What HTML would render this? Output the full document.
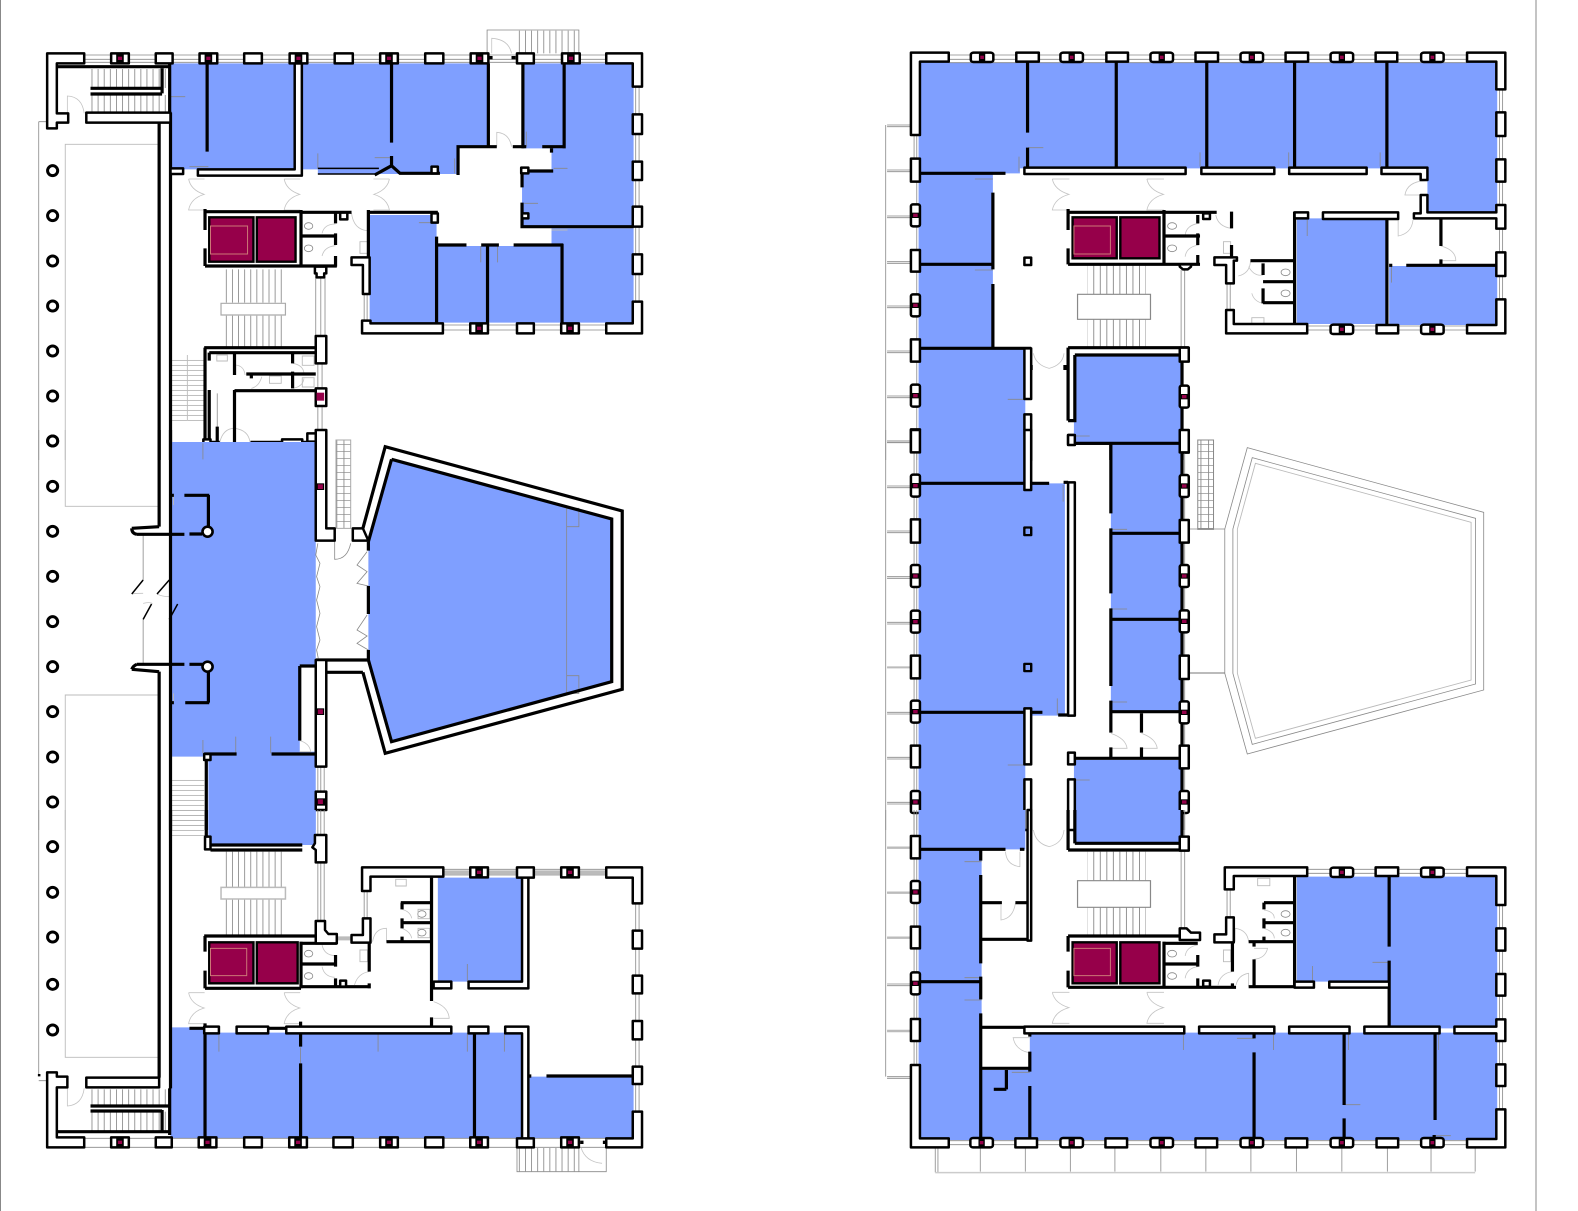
<!DOCTYPE html>
<html><head><meta charset="utf-8"><style>
html,body{margin:0;padding:0;background:#fff}
svg{display:block}
svg *{vector-effect:non-scaling-stroke}
.b{fill:#7f9fff;stroke:none}
.w{fill:none;stroke:#000;stroke-width:3.2;stroke-linecap:butt}
.t{fill:none;stroke:#000;stroke-width:1.5}
.p{fill:#fff;stroke:#000;stroke-width:2.5;stroke-linejoin:round}
.g{fill:none;stroke:#888;stroke-width:.8}
.l{fill:none;stroke:#bbb;stroke-width:.9}
.d{fill:none;stroke:#c4c4c4;stroke-width:.8}
.c{fill:#96004a;stroke:#000;stroke-width:2.4}
.m{fill:#96004a;stroke:none}
.k{fill:#000;stroke:none}
</style></head><body>
<svg xmlns="http://www.w3.org/2000/svg" width="1578" height="1211" viewBox="0 0 1578 1211">
<defs>
<pattern id="sv" patternUnits="userSpaceOnUse" width="14.5" height="40"><rect width="2" height="40" fill="#888"/></pattern>
<pattern id="sh" patternUnits="userSpaceOnUse" width="40" height="15"><rect width="40" height="2" fill="#a0a0a0"/></pattern>
<pattern id="sg" patternUnits="userSpaceOnUse" width="17" height="21"><rect width="2" height="21" fill="#888"/><rect width="17" height="2" fill="#888"/></pattern>
<path id="dd" class="d" d="M0,0H38M0,0Q5,33 37,46Q5,58 0,93H38"/>
<g id="c"><rect x="-21" y="-15" width="42" height="30" class="p"/><rect x="-9" y="-15" width="18" height="30" class="k"/><rect x="-5" y="-5" width="10" height="10" class="m"/></g>
<g id="r"><rect x="-25" y="-14" width="50" height="28" rx="6" class="p"/><rect x="-7" y="-14" width="14" height="28" class="k"/><rect x="-4" y="-5" width="8" height="10" class="m"/></g>
<g id="v"><rect x="-10" y="-33" width="20" height="66" rx="5" class="p"/><rect x="-10" y="-8" width="20" height="16" class="k"/><rect x="-5" y="-5" width="10" height="10" class="m"/></g>
</defs>
<rect width="1578" height="1211" fill="#fff"/>
<path d="M.5,0V1211" class="g" style="stroke-width:1"/>
<path d="M1536,0V1211" class="g" style="stroke-width:1"/>

<!-- LEFT A -->
<g transform="scale(.421,.33333)">
<path class="b" d="M403,190H1160V440H1088V522H755V508H403ZM1240,190H1505V680H1240V520L1310,510V445H1240ZM1040,738H1310V685H1505V968H1040ZM878,645H1037V968H878Z"/>
<path class="g" d="M92,365H112M92,365V1380M200,165H1440M200,178H1440M200,187H1440M1052,975H1440M1052,990H1440M1510,260V905M1518,260V905M750,832V1008M762,832V1008M772,832V1008M865,882V962M872,882V962M755,1090V1165M765,1090V1165M755,1218V1298M765,1218V1298M1157,160V90H1375V160M405,290H440M450,500H495M755,460V505M890,473H930M1080,475V520M1250,395V440M1315,505H1348M1245,610H1278M995,668H1038M1142,738V787M1182,738V787M516,1180V1320"/>
<path class="l" d="M155,1380V433H375M1310,690H1348"/>
<rect x="215" y="207" width="185" height="57" fill="url(#sv)"/><rect x="215" y="285" width="185" height="50" fill="url(#sv)"/>
<rect x="1228" y="92" width="147" height="68" fill="url(#sv)"/>
<rect x="525" y="808" width="153" height="100" fill="url(#sv)"/><rect x="525" y="947" width="153" height="93" fill="url(#sv)"/>
<rect x="525" y="910" width="153" height="35" fill="none" stroke="#aaa" stroke-width="1.2"/>
<rect x="405" y="1068" width="80" height="195" fill="url(#sh)"/><path class="l" d="M445,1065V1262"/>
<path class="d" d="M160,340V288Q195,290 200,340M1168,160V115Q1208,118 1215,160M1180,440V397Q1210,400 1215,440M765,700Q770,672 797,672M765,768Q770,740 797,737M835,640Q840,688 872,692M560,1125V1095Q580,1098 582,1125M597,1165Q615,1160 622,1130M695,1090Q720,1095 722,1120M695,1165Q720,1160 722,1135M522,1327Q530,1285 557,1285Q590,1290 594,1327"/>
<use href="#dd" x="448" y="537"/><use href="#dd" x="675" y="537"/><use href="#dd" transform="translate(925,537) scale(-1,1)"/>
<ellipse cx="733" cy="678" rx="10" ry="10" class="g"/><ellipse cx="733" cy="745" rx="10" ry="10" class="g"/>
<rect x="855" y="725" width="18" height="35" class="l"/><rect x="515" y="1065" width="25" height="18" class="l"/><rect x="640" y="1128" width="28" height="22" class="l"/><rect x="718" y="1068" width="28" height="28" class="l"/><rect x="718" y="1133" width="28" height="28" class="l"/>
<rect x="497" y="652" width="105" height="133" class="c"/><rect x="610" y="652" width="92" height="133" class="c"/>
<rect x="500" y="678" width="88" height="84" fill="none" stroke="#c77" stroke-width="1"/>
<path class="w" d="M378,368V1380M405,338V1380M135,200H405M385,205V280M403,190V340M215,265H385M215,282H385M492,190V455M930,190V428M930,468V495M890,525L930,497L950,520H1045M1088,525V440H1180M1218,440H1250M1288,440H1340M1160,190V440M1242,190V445M1340,190V445M1310,445V458M1250,513H1314M1240,520V562M1240,608V680H1505M1037,710V968M1158,735V970M1335,732V970M1040,735H1108M1143,735H1185M1220,735H1338M872,637H1040M875,630V770M485,635H715M487,627V690M487,745V798M487,798H800M715,630V798M715,637H835M797,640V670M718,708H800M797,700V735M797,768V800M485,1043H750M497,1058H750M487,1043V1330M497,1058V1082M497,1170V1330M557,1060V1125M585,1122H750M695,1060V1090M695,1115V1165M597,1122V1135M557,1170V1330M557,1172H750M595,1327H670M718,1327H750M500,1327H522M516,1280V1327"/>
<path class="t" d="M755,505H900M755,522H890"/>
<path class="p" d="M112,160H200V190H135V340H162V368H135V385H112ZM205,338H405V368H205ZM370,160H410V190H370ZM580,160H622V190H580ZM795,160H838V190H795ZM1010,160H1053V190H1010ZM1228,160H1268V190H1228ZM1440,160H1525V260H1503V190H1440ZM1503,343H1525V402H1503ZM1503,485H1525V540H1503ZM1503,620H1525V680H1503ZM1503,763H1525V822H1503ZM1503,905H1525V1000H1440V970H1503ZM860,962H880V970H1052V1000H860ZM1228,970H1268V1000H1228ZM700,190H717V527H470V508H700ZM405,505H435V522H405ZM835,772H878V882H862V795H835ZM748,800H775V820H770V832H752V820H748ZM750,1008H775V1090H750ZM750,1165H775V1218H750ZM730,1300H750V1295H775V1380H750V1325H730ZM670,1318H718V1335H670ZM483,1318H500V1333H483ZM808,638H825V658H808ZM1025,500H1040V520H1025ZM1238,503H1255V520H1238ZM1240,640H1255V655H1240ZM1025,640H1040V668H1025Z"/>
<use href="#c" x="285" y="175"/><use href="#c" x="495" y="175"/><use href="#c" x="709" y="175"/><use href="#c" x="924" y="175"/><use href="#c" x="1139" y="175"/><use href="#c" x="1356" y="175"/><use href="#c" x="1138" y="985"/><use href="#c" x="1354" y="985"/>
<rect x="752" y="1178" width="18" height="24" class="m"/>
<path class="k" d="M1160,168h10v10h-10zM1215,168h10v10h-10z"/>
<g fill="#fff" stroke="#000" stroke-width="3">
<ellipse cx="125" cy="512" rx="12" ry="15"/><ellipse cx="125" cy="647" rx="12" ry="15"/><ellipse cx="125" cy="783" rx="12" ry="15"/><ellipse cx="125" cy="918" rx="12" ry="15"/><ellipse cx="125" cy="1053" rx="12" ry="15"/><ellipse cx="125" cy="1188" rx="12" ry="15"/><ellipse cx="125" cy="1323" rx="12" ry="15"/>
</g>
</g>

<!-- LEFT B -->
<g transform="translate(0,430) scale(.421,.33333)">
<path class="b" d="M403,36H750V708H712V965H750V1200H495V980H403ZM930,88L1453,267V755L930,935L875,690V335Z"/>
<path class="g" d="M92,0V1200M340,313V450M340,568V700M403,36V700M482,40V88M482,930V970M560,920V970M643,920V970M1346,233V790M1346,235H1375V290H1346M1346,737H1375V790H1346M755,1010V1085M762,1010V1085M770,1010V1085M795,335V388Q825,388 833,340M755,340L750,375L760,400L752,440L760,470L752,510L760,550L752,590L760,630L752,660L756,685M872,365L848,405L872,425L848,460L875,468M872,555L848,600L872,618L848,640L875,660"/>
<path class="l" d="M155,0V229H375M375,795H155V1200M412,225V195M412,790V815"/>
<rect x="798" y="30" width="35" height="265" fill="url(#sg)" stroke="#aaa"/>
<rect x="405" y="1048" width="80" height="152" fill="url(#sh)"/>
<path class="d" d="M340,490Q320,490 313,492M402,500Q385,500 373,492M340,520Q360,515 362,522M712,932Q735,940 738,965H712"/>
<path class="w" d="M378,0V290M313,295L378,290M325,313H438M450,312H480M495,195V290M438,196H497M405,196H413M378,725V1200M313,718L378,725M325,703H438M450,703H482M495,725V818M440,818H497M405,818H413M313,295Q313,310 325,313M313,718Q316,708 325,703M405,0V1200M490,975V1200M485,972H562M645,972H750M712,708H750M712,708V932M750,690H875M775,727H862M875,335V362M875,468V552M875,660V690"/>
<path class="t" d="M340,450L313,492M402,450L373,492M360,522L340,568M422,522L402,568"/>
<path class="w" d="M930,88L1453,267V755L930,935L875,690M875,335L930,88M862,295L915,50L1478,243V778L915,970L862,727"/>
<path class="p" d="M750,0H775V295H795V332H750ZM838,295H862L875,332H838ZM750,690H775V1010H750ZM750,1085H775V1140H750ZM485,972H500V990H485Z"/>
<rect x="752" y="160" width="18" height="20" class="k"/><rect x="755" y="163" width="12" height="14" class="m"/>
<rect x="752" y="835" width="18" height="20" class="k"/><rect x="755" y="838" width="12" height="14" class="m"/>
<rect x="750" y="1105" width="25" height="22" class="k"/><rect x="755" y="1108" width="12" height="14" class="m"/>
<ellipse cx="493" cy="305" rx="12" ry="15" fill="#fff" stroke="#000" stroke-width="2.6"/><ellipse cx="493" cy="710" rx="12" ry="15" fill="#fff" stroke="#000" stroke-width="2.6"/>
<g fill="#fff" stroke="#000" stroke-width="3">
<ellipse cx="125" cy="33" rx="12" ry="15"/><ellipse cx="125" cy="169" rx="12" ry="15"/><ellipse cx="125" cy="304" rx="12" ry="15"/><ellipse cx="125" cy="439" rx="12" ry="15"/><ellipse cx="125" cy="575" rx="12" ry="15"/><ellipse cx="125" cy="710" rx="12" ry="15"/><ellipse cx="125" cy="845" rx="12" ry="15"/><ellipse cx="125" cy="981" rx="12" ry="15"/><ellipse cx="125" cy="1116" rx="12" ry="15"/>
</g>
</g>

<!-- LEFT C -->
<g transform="translate(0,810) scale(.421,.33333)">
<path class="b" d="M495,0H750V105H495ZM405,652H487V668H1240V985H405ZM1258,800H1505V985H1258ZM1040,203H1240V515H1040Z"/>
<path class="g" d="M92,0V797M92,812H112M520,675V725M898,670V725M1110,670V725M1198,670V725M1110,462V515M714,712V760M755,0V75M762,0V75M770,0V75M755,157V333M762,157V333M770,157V333M865,243V325M872,243V325M200,985H1440M200,1012H1440M1053,178H1440M1053,195H1440M1510,280V905M1518,280V905"/>
<path class="l" d="M155,0V742H375" />
<path d="M1053,187H1118M1160,187H1228M1268,187H1335M1377,187H1440M800,385H835" stroke="#bbb" stroke-width="4" fill="none"/>
<rect x="405" y="0" width="80" height="85" fill="url(#sh)"/>
<rect x="525" y="125" width="153" height="107" fill="url(#sv)"/><rect x="525" y="268" width="153" height="107" fill="url(#sv)"/>
<rect x="525" y="232" width="153" height="35" fill="#fff" stroke="#bbb" stroke-width="1.5"/>
<rect x="215" y="838" width="185" height="48" fill="url(#sv)"/><rect x="215" y="905" width="185" height="58" fill="url(#sv)"/>
<rect x="1228" y="1014" width="147" height="70" fill="url(#sv)"/>
<path class="g" d="M1228,1012V1085H1440V1012M1375,1012V1085"/>
<path class="d" d="M1380,1012Q1390,1055 1430,1060M160,835V888Q195,885 200,835M885,395Q890,355 918,355V395M765,405Q770,435 795,437M765,470Q770,500 795,502M842,525Q850,490 877,485M1030,575Q1065,590 1067,625H1030M955,298Q975,305 978,325M955,355Q975,365 978,385"/>
<use href="#dd" x="448" y="548"/><use href="#dd" x="675" y="548"/>
<ellipse cx="733" cy="431" rx="10" ry="10" class="g"/><ellipse cx="733" cy="498" rx="10" ry="10" class="g"/><ellipse cx="1002" cy="312" rx="10" ry="10" class="g"/><ellipse cx="1002" cy="368" rx="10" ry="10" class="g"/>
<rect x="855" y="420" width="18" height="35" class="l"/><rect x="940" y="208" width="25" height="20" class="l"/><rect x="993" y="298" width="28" height="28" class="l"/><rect x="993" y="355" width="28" height="28" class="l"/>
<rect x="497" y="397" width="105" height="123" class="c"/><rect x="610" y="397" width="97" height="123" class="c"/>
<rect x="500" y="415" width="86" height="82" fill="none" stroke="#c77" stroke-width="1"/>
<path class="w" d="M378,0V803M405,0V835M490,0V100M490,100V120M500,105H718M500,120H718M485,378H800M487,378V425M487,482V535M487,535H715M715,395V535M715,400H800M797,435V470M718,462H800M797,505V530M715,530H880M877,395V485M877,520V535M1025,203V573M1025,622V650M952,278H1025M955,278V298M952,338H1025M955,325V355M955,380V395M918,395H1025M450,655H485M637,655H680M487,640V980M714,635V710M714,760V980M1127,670V980M1298,798H1500M1252,798H1262M135,965H405M215,888H405M215,903H385M385,900V965M403,835V975"/>
<path class="p" d="M748,75H775V157H750V120L742,112L748,100ZM750,333H772V360L780,372H800V400H750V378ZM835,375H862V325H880V398H835ZM860,172H1053V200H880V243H860ZM1440,172H1525V280H1503V203H1440ZM1228,172H1268V203H1228ZM1240,203H1255V535H1113V515H1240ZM1040,515H1072V535H1030V515ZM485,650H520V670H485ZM562,650H637V670H562ZM680,650H1072V670H680ZM1113,650H1160V670H1113ZM1200,650H1255V985H1240V670H1200ZM1503,362H1525V416H1503ZM1503,497H1525V550H1503ZM1503,633H1525V688H1503ZM1503,770H1525V822H1503ZM1503,905H1525V1012H1440V985H1503ZM112,787H135V800H160V832H135V982H200V1012H112ZM205,803H378V832H205ZM370,982H408V1012H370ZM580,982H622V1012H580ZM792,982H838V1012H792ZM1010,982H1053V1012H1010ZM1228,985H1268V1012H1228ZM808,512H822V530H808ZM487,80H500V118H487Z"/>
<use href="#c" x="1138" y="187"/><use href="#c" x="1354" y="187"/>
<use href="#c" x="285" y="997"/><use href="#c" x="493" y="997"/><use href="#c" x="708" y="997"/><use href="#c" x="924" y="997"/><use href="#c" x="1138" y="997"/><use href="#c" x="1354" y="997"/>
<path class="k" d="M1378,992h8v10h-8zM1432,992h8v10h-8zM1254,794h7v9h-7zM90,792h6v7h-6z"/>
<g fill="#fff" stroke="#000" stroke-width="3">
<ellipse cx="125" cy="110" rx="12" ry="15"/><ellipse cx="125" cy="247" rx="12" ry="15"/><ellipse cx="125" cy="381" rx="12" ry="15"/><ellipse cx="125" cy="523" rx="12" ry="15"/><ellipse cx="125" cy="660" rx="12" ry="15"/>
</g>
</g>

<!-- RIGHT D -->
<g transform="translate(871.3,0) scale(.4503,.33333)">
<path class="b" d="M105,187H1390V635H1235V505H330V520H270V1042H342V1380H105ZM945,655H1145V972H945ZM1150,798H1390V975H1150ZM450,1065H690V1328H450Z"/>
<path class="g" d="M32,375V1380M35,375H88M35,380H88M35,510H88M35,515H88M35,648H88M35,653H88M35,785H88M35,790H88M35,918H88M35,923H88M35,1053H88M35,1058H88M35,1188H88M35,1193H88M35,1323H88M35,1328H88M172,165H1323M172,178H1323M172,188H1323M968,978H1323M968,990H1323M1395,268V898M1402,268V898M95,405V476M101,405V1380M688,810V1045M696,810V1045M790,850V930M797,850V930M348,443H382M328,470V515M730,457V500M927,457V500M1130,457V500M968,660V708M1155,800V848M450,1310H485M303,1198H342M230,537H270M230,810H270"/>
<rect x="480" y="797" width="130" height="86" fill="url(#sv)"/><rect x="480" y="958" width="130" height="84" fill="url(#sv)"/>
<rect x="458" y="883" width="162" height="75" fill="#fff" stroke="#888" stroke-width="1.2"/>
<path class="d" d="M1230,542Q1190,545 1185,585H1220M1170,660V708Q1200,700 1203,660M1265,738Q1298,750 1298,782H1265M800,685Q770,680 765,645M728,670Q700,675 697,705M728,735Q700,740 697,770M815,828Q840,820 842,785M870,825Q850,830 838,800M870,910Q850,905 845,880M360,1060Q365,1095 395,1105Q425,1095 428,1060"/>
<use href="#dd" x="402" y="537"/><use href="#dd" x="612" y="537"/>
<ellipse cx="668" cy="678" rx="10" ry="10" class="g"/><ellipse cx="668" cy="745" rx="10" ry="10" class="g"/><ellipse cx="920" cy="817" rx="10" ry="10" class="g"/><ellipse cx="920" cy="880" rx="10" ry="10" class="g"/>
<rect x="782" y="725" width="16" height="35" class="l"/><rect x="845" y="953" width="27" height="22" class="l"/>
<rect x="447" y="652" width="98" height="123" class="c"/><rect x="553" y="652" width="87" height="123" class="c"/>
<rect x="450" y="678" width="81" height="84" fill="none" stroke="#c77" stroke-width="1"/>
<path class="w" d="M347,187V398M347,443V500M544,187V500M745,187V500M940,187V500M1145,187V500M105,520H298M270,578V808M108,793H270M270,852V1042M108,1045H355M437,637H650M437,627V690M437,745V793M437,793H730M650,630V793M650,637H767M725,645V670M650,708H730M725,700V735M725,765V793M800,635V685M800,735V778M940,635V975M842,782H938M870,790V825M870,845H938M870,865V910M870,908H938M1145,657V975M1150,796H1157M1188,796H1388M1265,655V738M1265,778V796M437,1043H705M452,1065H690M437,1330H690M532,1330V1380M690,1065V1380M437,1043V1262M452,1065V1262H437M355,1095V1110M430,1095V1110"/>
<path class="p" d="M88,158H172V185H108V405H88ZM322,158H372V185H322ZM522,158H570V185H522ZM720,158H770V185H720ZM920,158H970V185H920ZM1120,158H1168V185H1120ZM1323,158H1408V268H1388V185H1323ZM1388,337H1408V408H1388ZM1388,478H1408V545H1388ZM1388,757H1408V828H1388ZM1388,898H1408V1000H1323V975H1388ZM88,476H108V545H88ZM88,750H108V815H88ZM88,1018H108V1085H88ZM88,1288H108V1355H88ZM340,503H698V522H340ZM733,503H895V522H733ZM928,503H1100V522H928ZM1133,503H1235V540H1220V522H1133ZM1220,585H1235V637H1388V615H1408V686H1388V655H1205V640H1220ZM940,637H970V655H940ZM1003,637H1170V657H1003ZM340,773H355V795H340ZM685,793H710V800L703,808H692L685,800ZM762,772H812V782H805V850H788V795H762ZM788,930H805V972H968V1000H788ZM1122,975H1170V1000H1122ZM685,1043H705V1085H685ZM340,1045H355V1197H340ZM340,1243H355V1380H340ZM437,1305H452V1333H437ZM685,1293H705V1358H685ZM737,640H752V657H737Z"/>
<use href="#r" x="246" y="172"/><use href="#r" x="445" y="172"/><use href="#r" x="645" y="172"/><use href="#r" x="845" y="172"/><use href="#r" x="1045" y="172"/><use href="#r" x="1246" y="172"/><use href="#r" x="1045" y="988"/><use href="#r" x="1246" y="988"/>
<use href="#v" x="98" y="646"/><use href="#v" x="98" y="916"/><use href="#v" x="98" y="1187"/><use href="#v" x="695" y="1190"/>
</g>

<!-- RIGHT E -->
<g transform="translate(871.3,430) scale(.4503,.33333)">
<path class="b" d="M105,0H342V160H430V857H105ZM450,0H690V40H450ZM532,40H690V845H532ZM450,990H690V1200H450ZM105,857H342V1200H105Z"/>
<rect x="725" y="30" width="35" height="268" fill="url(#sg)" stroke="#888"/>
<path class="g" d="M32,0V1200M35,33H88M35,38H88M35,168H88M35,173H88M35,303H88M35,308H88M35,440H88M35,445H88M35,577H88M35,582H88M35,847H88M35,852H88M35,982H88M35,987H88M35,1117H88M35,1122H88M95,0V1200M101,0V1200M696,0V1200M705,297H785M450,18H485M426,165V215M532,298H568M532,537H568M532,816H568M413,805V855M303,1005H342M450,1050H485M688,850V950"/>
<path d="M35,712H88M705,729H785" stroke="#bbb" stroke-width="2" fill="none"/>
<path class="g" d="M835,53L1360,247V780L835,972L785,730V297ZM846,83L1342,265V762L846,943L803,730V297Z"/>
<path class="l" d="M853,100L1332,277V750L853,925L813,730V297Z"/>
<path class="d" d="M532,910Q565,925 568,955H532M600,910Q632,925 635,955H600"/>
<path class="w" d="M105,160H395M427,157H437M437,40H690M532,40V250M532,295V490M532,310H690M532,568H690M532,535V768M532,812V908M532,845H690M600,850V908M532,952V985M600,952V985M437,985H690M108,847H380M415,855H452M690,0V1200"/>
<path class="p" d="M340,0H355V180H340ZM437,157H452V857H437ZM340,293H355V315H340ZM340,702H355V723H340ZM340,835H355V1003H340ZM340,1048H355V1200H340ZM437,968H452V1003H437ZM437,1048H452V1200H437ZM437,15H452V45H437ZM88,0H108V67H88ZM88,268H108V338H88ZM88,677H108V745H88ZM88,947H108V1012H88ZM685,0H705V67H685ZM685,270H705V338H685ZM685,677H705V747H685ZM685,947H705V1015H685Z"/>
<rect x="343" y="296" width="9" height="16" class="b"/><rect x="343" y="705" width="9" height="15" class="b"/>
<use href="#v" x="98" y="167"/><use href="#v" x="98" y="438"/><use href="#v" x="98" y="575"/><use href="#v" x="98" y="845"/><use href="#v" x="98" y="1116"/>
<use href="#v" x="695" y="168"/><use href="#v" x="695" y="438"/><use href="#v" x="695" y="574"/><use href="#v" x="695" y="847"/><use href="#v" x="695" y="1116"/>
</g>

<!-- RIGHT F -->
<g transform="translate(871.3,810) scale(.4503,.33333)">
<path class="b" d="M105,0H342V118H245V780H352V668H1390V990H105ZM450,0H690V100H450ZM945,200H1390V655H1150V515H945Z"/>
<path class="g" d="M32,0V800M35,248H88M35,522H88M35,527H88M35,800H88M35,805H88M95,0V765M101,0V765M696,0V80M688,122V355M696,122V355M790,238V322M797,238V322M172,992H1323M172,1004H1323M968,178H1323M968,190H1323M1395,285V898M1402,285V898M207,155H245M207,503H245M207,570H245M312,787H352M812,685H850M693,672V720M893,672V720M1060,672V720M1260,672V720M1050,884H1086M1250,977H1287M980,468V515M1113,457H1150M142,1012V1087M148,1012V1087M242,1012V1085M342,1012V1085M442,1012V1085M541,1012V1085M643,1012V1085M743,1012V1085M843,1012V1085M944,1012V1085M1045,1012V1085M1146,1012V1085M1243,1012V1085M1341,1012V1085"/>
<path d="M142,1088H1341" stroke="#ccc" stroke-width="1.5" fill="none"/>
<path d="M35,113H88M35,383H88M35,248H88M35,663H88" stroke="#bbb" stroke-width="2.4" fill="none"/>
<rect x="480" y="125" width="130" height="86" fill="url(#sv)"/><rect x="480" y="292" width="130" height="84" fill="url(#sv)"/>
<rect x="458" y="212" width="162" height="80" fill="#fff" stroke="#888" stroke-width="1.2"/>
<path class="d" d="M298,125Q300,165 330,170V125M320,280Q315,325 288,330V285M360,60Q365,100 395,110Q425,100 428,60M725,405Q700,410 697,438M725,470Q700,475 697,505M808,395V355Q835,360 838,395M850,415H880Q875,445 850,448M770,525Q775,490 802,485M810,525Q815,495 838,490V530M352,683H315Q320,720 350,728M872,300Q895,305 895,325M872,355Q895,365 895,385"/>
<use href="#dd" x="402" y="547"/><use href="#dd" x="612" y="547"/>
<ellipse cx="668" cy="431" rx="10" ry="10" class="g"/><ellipse cx="668" cy="498" rx="10" ry="10" class="g"/><ellipse cx="920" cy="312" rx="10" ry="10" class="g"/><ellipse cx="920" cy="368" rx="10" ry="10" class="g"/>
<rect x="782" y="420" width="16" height="35" class="l"/><rect x="858" y="205" width="27" height="22" class="l"/>
<rect x="447" y="397" width="98" height="123" class="c"/><rect x="553" y="397" width="87" height="123" class="c"/>
<rect x="450" y="415" width="81" height="82" fill="none" stroke="#c77" stroke-width="1"/>
<path class="w" d="M108,118H298M330,118H340M243,120V152M243,195V460M243,500V568M243,610V990M245,278H290M320,278H345M245,388H355M108,515H243M245,652H345M245,775H352M352,672V680M352,725V785M300,780V838M272,838H300M352,828V985M850,672V685M850,727V990M1050,672V885M1050,925V990M1252,672V930M1250,975V990M1150,200V410M1150,452V650M437,120H705M452,100H690M437,0V120M452,0V100M690,0V100M437,378H730M437,378V425M437,482V532M650,395V535M650,400H725M725,435V470M650,462H728M725,505V530M437,532H810M802,395V485M802,520V532M940,200V530M872,278H938M872,278V298M872,325V355M872,338H938M872,380V395M838,395H938M850,395V410M850,448V530M838,530H985"/>
<path class="p" d="M347,0H355V392H347ZM685,80H705V122H685ZM685,355H700L710,368H730V390H685V378ZM762,373H788V322H805V397H762ZM785,172H968V198H805V238H785ZM940,515H983V533H940ZM1017,515H1150V533H1017ZM340,650H695V670H340ZM728,650H895V670H728ZM928,650H1062V670H928ZM1095,650H1262V670H1095ZM1295,650H1388V628H1408V693H1388V670H1295ZM88,765H108V985H172V1012H88ZM320,985H368V1012H320ZM520,985H568V1012H520ZM720,985H768V1012H720ZM920,985H968V1012H920ZM1122,985H1170V1012H1122ZM1388,898H1408V1012H1323V987H1388ZM1323,172H1408V285H1388V198H1323ZM1120,172H1170V198H1120ZM1388,355H1408V422H1388ZM1388,492H1408V557H1388ZM1388,763H1408V828H1388ZM88,78H108V145H88ZM88,350H108V415H88ZM88,627H108V693H88ZM737,512H752V530H737Z"/>
<use href="#v" x="98" y="246"/><use href="#v" x="98" y="520"/>
<use href="#r" x="1045" y="187"/><use href="#r" x="1246" y="187"/>
<use href="#r" x="245" y="998"/><use href="#r" x="445" y="998"/><use href="#r" x="645" y="998"/><use href="#r" x="845" y="998"/><use href="#r" x="1045" y="998"/><use href="#r" x="1246" y="998"/>
</g>
</svg>
</body></html>
